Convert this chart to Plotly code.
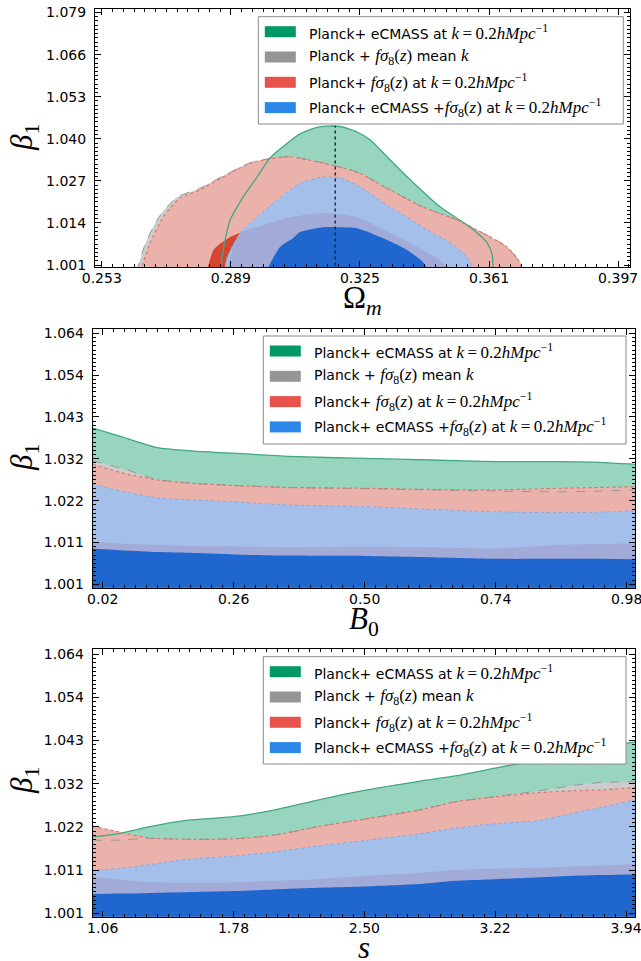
import numpy as np
import plotly.graph_objects as go

W, H = 641, 961

# ---------------- Omega_m - beta_1 plane: 68%/95% region boundaries ----------------
om_green95_x = [0.2860, 0.2871, 0.2888, 0.2924, 0.2963, 0.2999, 0.3041, 0.3083, 0.3125, 0.3158,
                0.3195, 0.3242, 0.3279, 0.3315, 0.3382, 0.3474, 0.3557, 0.3605, 0.3619, 0.3621]
om_green95_y = [0.9990, 1.0072, 1.0149, 1.0220, 1.0282, 1.0341, 1.0381, 1.0415, 1.0434, 1.0439,
                1.0438, 1.0421, 1.0396, 1.0356, 1.0282, 1.0189, 1.0127, 1.0078, 1.0041, 0.9990]

om_gray95_x = [0.2627, 0.2652, 0.2690, 0.2740, 0.2799, 0.2866, 0.2944, 0.2999, 0.3055, 0.3147,
               0.3242, 0.3334, 0.3426, 0.3521, 0.3613, 0.3660, 0.3697, 0.3700]
om_gray95_y = [0.9990, 1.0078, 1.0160, 1.0220, 1.0245, 1.0284, 1.0326, 1.0339, 1.0345, 1.0326,
               1.0297, 1.0242, 1.0189, 1.0149, 1.0097, 1.0066, 1.0016, 0.9990]

om_red95_x = [0.2637, 0.2665, 0.2701, 0.2748, 0.2804, 0.2868, 0.2944, 0.2999, 0.3055, 0.3147,
              0.3242, 0.3334, 0.3426, 0.3521, 0.3613, 0.3660, 0.3697, 0.3700]
om_red95_y = [0.9990, 1.0078, 1.0158, 1.0217, 1.0242, 1.0282, 1.0325, 1.0338, 1.0344, 1.0325,
              1.0297, 1.0242, 1.0189, 1.0149, 1.0097, 1.0066, 1.0016, 0.9990]

om_red68_x = [0.2823, 0.2841, 0.2866, 0.2888, 0.2916, 0.2999, 0.3139, 0.3250, 0.3362, 0.3418]
om_red68_y = [0.9990, 1.0056, 1.0081, 1.0097, 1.0109, 1.0131, 1.0143, 1.0124, 1.0072, 0.9990]

om_blue95_x = [0.2871, 0.2880, 0.2916, 0.2963, 0.3019, 0.3083, 0.3147, 0.3195, 0.3242, 0.3334,
               0.3426, 0.3502, 0.3549, 0.3566]
om_blue95_y = [0.9990, 1.0035, 1.0109, 1.0158, 1.0211, 1.0263, 1.0282, 1.0279, 1.0257, 1.0189,
               1.0127, 1.0078, 1.0035, 0.9990]

om_gray68_x = [0.2880, 0.2894, 0.2916, 0.2980, 0.3055, 0.3147, 0.3242, 0.3334, 0.3410, 0.3474, 0.3502]
om_gray68_y = [0.9990, 1.0056, 1.0109, 1.0134, 1.0158, 1.0171, 1.0158, 1.0109, 1.0066, 1.0025, 0.9990]

om_blue68_x = [0.2988, 0.3027, 0.3063, 0.3083, 0.3147, 0.3195, 0.3242, 0.3315, 0.3382, 0.3426, 0.3441]
om_blue68_y = [0.9990, 1.0066, 1.0093, 1.0112, 1.0127, 1.0127, 1.0124, 1.0093, 1.0056, 1.0019, 0.9990]

# best-fit Omega_m marker (vertical line)
om_best_x = [0.3181, 0.3181]
om_best_y = [0.9990, 1.0440]

# ---------------- B0 - beta_1 plane: upper edges of the bands ----------------
b0_grid = [0.002, 0.06, 0.12, 0.18, 0.26, 0.36, 0.50, 0.62, 0.74, 0.86, 0.93, 0.995]
b0_green95 = [1.0402, 1.0378, 1.0353, 1.0345, 1.0339, 1.0331, 1.0326, 1.0322, 1.0318, 1.0318, 1.0316, 1.0311]
b0_gray95 = [1.0320, 1.0299, 1.0273, 1.0264, 1.0258, 1.0253, 1.0250, 1.0247, 1.0244, 1.0242, 1.0244, 1.0247]
b0_red95 = [1.0311, 1.0288, 1.0272, 1.0264, 1.0258, 1.0253, 1.0251, 1.0248, 1.0247, 1.0251, 1.0253, 1.0255]
b0_blue95 = [1.0262, 1.0242, 1.0227, 1.0222, 1.0217, 1.0209, 1.0205, 1.0198, 1.0192, 1.0190, 1.0191, 1.0195]
b0_gray68 = [1.0117, 1.0112, 1.0109, 1.0106, 1.0105, 1.0103, 1.0104, 1.0103, 1.0100, 1.0109, 1.0111, 1.0113]
b0_blue68 = [1.0100, 1.0095, 1.0091, 1.0089, 1.0085, 1.0082, 1.0081, 1.0078, 1.0074, 1.0074, 1.0074, 1.0073]

# ---------------- s - beta_1 plane: upper edges of the bands ----------------
s_grid = [1.005, 1.15, 1.30, 1.50, 1.78, 2.00, 2.25, 2.50, 2.80, 3.00, 3.22, 3.45, 3.65, 3.80, 3.99]
s_green95 = [1.0196, 1.0204, 1.0219, 1.0235, 1.0245, 1.0261, 1.0286, 1.0309, 1.0331, 1.0344,
             1.0363, 1.0383, 1.0400, 1.0412, 1.0427]
s_gray95 = [1.0188, 1.0188, 1.0192, 1.0190, 1.0191, 1.0200, 1.0221, 1.0239, 1.0261, 1.0281,
            1.0294, 1.0307, 1.0321, 1.0328, 1.0330]
s_red95 = [1.0222, 1.0208, 1.0194, 1.0190, 1.0191, 1.0200, 1.0221, 1.0239, 1.0261, 1.0281,
           1.0293, 1.0303, 1.0308, 1.0310, 1.0316]
s_blue95 = [1.0115, 1.0119, 1.0127, 1.0140, 1.0149, 1.0159, 1.0174, 1.0187, 1.0203, 1.0217,
            1.0228, 1.0235, 1.0254, 1.0267, 1.0286]
s_gray68 = [1.0099, 1.0092, 1.0086, 1.0084, 1.0085, 1.0089, 1.0093, 1.0101, 1.0108, 1.0115,
            1.0119, 1.0121, 1.0124, 1.0126, 1.0130]
s_blue68 = [1.0057, 1.0058, 1.0059, 1.0061, 1.0064, 1.0068, 1.0072, 1.0075, 1.0081, 1.0089,
            1.0093, 1.0097, 1.0101, 1.0103, 1.0105]

# ---------------- tick labels ----------------
om_xticks = ["0.253", "0.289", "0.325", "0.361", "0.397"]
om_yticks = ["1.001", "1.014", "1.027", "1.040", "1.053", "1.066", "1.079"]
b0_xticks = ["0.02", "0.26", "0.50", "0.74", "0.98"]
b0_yticks = ["1.001", "1.011", "1.022", "1.032", "1.043", "1.054", "1.064"]
s_xticks = ["1.06", "1.78", "2.50", "3.22", "3.94"]
s_yticks = ["1.001", "1.011", "1.022", "1.032", "1.043", "1.054", "1.064"]

# ---------------- styling ----------------
FILL = dict(green95="#98d5bf", gray95="#cccccc", red95="#ebb2ac", red68="#d5452f",
            blue95="#a4c0ea", gray68="#a2abd8", blue68="#1f66cf")
EDGE = dict(green="#42a880", red="#d8766c", gray="#979797", blue="#86a8e2")
PATCH = ["#009966", "#959595", "#e8524a", "#2b87e8"]

MATH = "font-family:Liberation Serif;font-size:17px"
K02 = f'<span style="{MATH}"><i>k</i>\u2009=\u20090.2<i>hMpc</i><sup>\u22121</sup></span>'
FS8 = f'<span style="{MATH}"><i>f\u03c3</i><sub>8</sub>(<i>z</i>)</span>'
KM = f'<span style="{MATH}"><i>k</i></span>'
legend_labels = [
    f"Planck+ eCMASS at {K02}",
    f"Planck + {FS8} mean {KM}",
    f"Planck+ {FS8} at {K02}",
    f"Planck+ eCMASS +{FS8} at {K02}",
]

SPL = dict(shape="spline", smoothing=0.6)

fig = go.Figure()


def region(xs, ys, color, xa, ya):
    fig.add_trace(go.Scatter(x=xs, y=ys, mode="lines", fill="toself", fillcolor=color,
                             line=dict(width=0, **SPL), hoverinfo="skip", showlegend=False,
                             xaxis=xa, yaxis=ya))


def band(xs, ys, color, xa, ya):
    fig.add_trace(go.Scatter(x=xs, y=ys, mode="lines", fill="tozeroy", fillcolor=color,
                             line=dict(width=0, **SPL), hoverinfo="skip", showlegend=False,
                             xaxis=xa, yaxis=ya))


def edge(xs, ys, color, width, dash, xa, ya):
    fig.add_trace(go.Scatter(x=xs, y=ys, mode="lines",
                             line=dict(color=color, width=width, dash=dash, **SPL),
                             hoverinfo="skip", showlegend=False, xaxis=xa, yaxis=ya))


# Omega_m panel
region(om_green95_x, om_green95_y, FILL["green95"], "x", "y")
region(om_gray95_x, om_gray95_y, FILL["gray95"], "x", "y")
region(om_red95_x, om_red95_y, FILL["red95"], "x", "y")
region(om_red68_x, om_red68_y, FILL["red68"], "x", "y")
region(om_blue95_x, om_blue95_y, FILL["blue95"], "x", "y")
region(om_gray68_x, om_gray68_y, FILL["gray68"], "x", "y")
region(om_blue68_x, om_blue68_y, FILL["blue68"], "x", "y")
edge(om_gray95_x, om_gray95_y, EDGE["gray"], 1, "dash", "x", "y")
edge(om_red95_x, om_red95_y, EDGE["red"], 1.2, "dot", "x", "y")
edge(om_blue95_x, om_blue95_y, EDGE["blue"], 1, "dot", "x", "y")
edge(om_green95_x, om_green95_y, EDGE["green"], 1.3, "solid", "x", "y")
fig.add_trace(go.Scatter(x=om_best_x, y=om_best_y, mode="lines",
                         line=dict(color="#222222", width=1.4, dash="dot"),
                         hoverinfo="skip", showlegend=False, xaxis="x", yaxis="y"))

# B0 and s panels
for grid, g95, gr95, r95, b95, gr68, b68, xa, ya in [
    (b0_grid, b0_green95, b0_gray95, b0_red95, b0_blue95, b0_gray68, b0_blue68, "x2", "y2"),
    (s_grid, s_green95, s_gray95, s_red95, s_blue95, s_gray68, s_blue68, "x3", "y3"),
]:
    band(grid, g95, FILL["green95"], xa, ya)
    band(grid, gr95, FILL["gray95"], xa, ya)
    band(grid, r95, FILL["red95"], xa, ya)
    band(grid, b95, FILL["blue95"], xa, ya)
    band(grid, gr68, FILL["gray68"], xa, ya)
    band(grid, b68, FILL["blue68"], xa, ya)
    edge(grid, gr95, EDGE["gray"], 1, "dash", xa, ya)
    edge(grid, r95, EDGE["red"], 1.2, "dot", xa, ya)
    edge(grid, b95, EDGE["blue"], 1, "dot", xa, ya)
    edge(grid, g95, EDGE["green"], 1.3, "solid", xa, ya)


def px_x(p):
    return p / W


def px_y(p):
    return 1 - p / H


TICKFONT = dict(family="DejaVu Sans", size=14, color="black")
TITLEFONT = dict(family="Liberation Serif", size=31, color="black")


def xaxis(labels, rng, dom, anchor, n_minor):
    vals = np.linspace(float(labels[0]), float(labels[-1]), len(labels))
    step = vals[1] - vals[0]
    return dict(domain=dom, anchor=anchor, range=rng, tickvals=vals, ticktext=labels,
                showline=True, linecolor="black", linewidth=1, mirror="allticks",
                ticks="inside", ticklen=6, tickwidth=1, tickcolor="black",
                showgrid=False, zeroline=False, tickfont=TICKFONT, automargin=False,
                ticklabeloverflow="allow", ticklabelstandoff=-2,
                minor=dict(ticks="inside", ticklen=3, tickwidth=1, tickcolor="black",
                           tick0=vals[0], dtick=step / n_minor, showgrid=False))


def yaxis(labels, rng, dom, anchor, n_minor):
    vals = np.linspace(float(labels[0]), float(labels[-1]), len(labels))
    step = vals[1] - vals[0]
    return dict(domain=dom, anchor=anchor, range=rng, tickvals=vals, ticktext=labels,
                showline=True, linecolor="black", linewidth=1, mirror="allticks",
                ticks="inside", ticklen=6, tickwidth=1, tickcolor="black",
                showgrid=False, zeroline=False, tickfont=TICKFONT, automargin=False,
                ticklabelstandoff=5, ticklabeloverflow="allow",
                minor=dict(ticks="inside", ticklen=3, tickwidth=1, tickcolor="black",
                           tick0=vals[0], dtick=step / n_minor, showgrid=False))


def yout(labels, rng, over, anchor):
    vals = np.linspace(float(labels[0]), float(labels[-1]), len(labels))
    return dict(overlaying=over, anchor=anchor, side="left", range=rng, tickvals=vals,
                ticks="outside", ticklen=5, tickwidth=1, tickcolor="black",
                showticklabels=False, showline=False, showgrid=False, zeroline=False)


om_xr, om_yr = [0.2511, 0.4003], [1.0004, 1.0800]
b0_xr, b0_yr = [0.0017, 0.9952], [1.00015, 1.0650]
s_xr, s_yr = [1.005, 3.9895], [1.00017, 1.0652]

layout = dict(
    width=W, height=H, margin=dict(l=0, r=0, t=0, b=0),
    paper_bgcolor="white", plot_bgcolor="white", showlegend=False,
    xaxis=xaxis(om_xticks, om_xr, [px_x(95), px_x(630)], "y", 12),
    yaxis=yaxis(om_yticks, om_yr, [px_y(267), px_y(9.3)], "x", 10),
    xaxis2=xaxis(b0_xticks, b0_xr, [px_x(92.7), px_x(635)], "y2", 12),
    yaxis2=yaxis(b0_yticks, b0_yr, [px_y(587.7), px_y(329.3)], "x2", 10),
    xaxis3=xaxis(s_xticks, s_xr, [px_x(92.7), px_x(635)], "y3", 12),
    yaxis3=yaxis(s_yticks, s_yr, [px_y(916.7), px_y(649.3)], "x3", 10),
    yaxis4=yout(om_yticks, om_yr, "y", "x"),
    yaxis5=yout(b0_yticks, b0_yr, "y2", "x2"),
    yaxis6=yout(s_yticks, s_yr, "y3", "x3"),
)

shapes, annotations = [], []

# axis titles
for text, cx, cy in [("\u03a9<sub><i>m</i></sub>", 362, 300),
                     ("<i>B</i><sub>0</sub>", 364, 621),
                     ("<i>s</i>", 364, 947)]:
    annotations.append(dict(text=text, xref="paper", yref="paper", showarrow=False,
                            x=px_x(cx), y=px_y(cy), xanchor="center", yanchor="middle",
                            font=TITLEFONT))
for cy in [138, 458, 781]:
    annotations.append(dict(text="<i>\u03b2</i><sub>1</sub>", xref="paper", yref="paper",
                            showarrow=False, x=px_x(24), y=px_y(cy), textangle=-90,
                            xanchor="center", yanchor="middle", font=TITLEFONT))

# legend boxes drawn inside each panel
for left, top, right, bottom in [(258.3, 16.7, 623.3, 124.0),
                                 (263.3, 336.0, 626.0, 444.0),
                                 (263.3, 656.7, 626.0, 764.0)]:
    shapes.append(dict(type="rect", xref="paper", yref="paper", layer="above",
                       x0=px_x(left), x1=px_x(right), y0=px_y(bottom), y1=px_y(top),
                       fillcolor="white", line=dict(color="#8a8a8a", width=1)))
    for i, (lab, col) in enumerate(zip(legend_labels, PATCH)):
        cy = top + 15 + 25.3 * i
        shapes.append(dict(type="rect", xref="paper", yref="paper", layer="above",
                           x0=px_x(left + 6.5), x1=px_x(left + 37.5),
                           y0=px_y(cy + 5.5), y1=px_y(cy - 5.5),
                           fillcolor=col, line=dict(width=0)))
        annotations.append(dict(text=lab, xref="paper", yref="paper", showarrow=False,
                                x=px_x(left + 48.5), y=px_y(cy), xanchor="left", yanchor="middle",
                                font=dict(family="DejaVu Sans", size=14, color="black")))

layout["shapes"] = shapes
layout["annotations"] = annotations
fig.update_layout(**layout)

fig.write_html("out.html")
